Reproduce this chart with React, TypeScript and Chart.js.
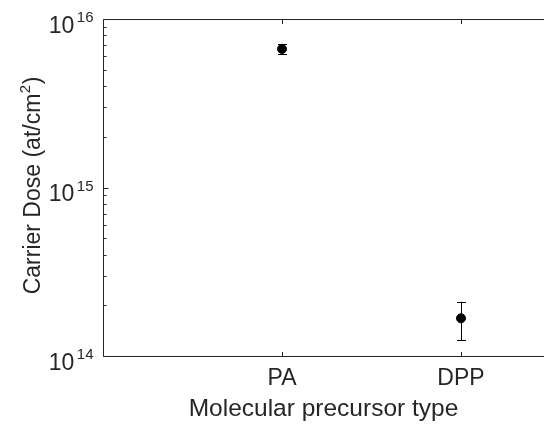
import React, { useEffect, useRef } from 'react';
import { Chart, registerables } from 'chart.js';

Chart.register(...registerables);

// ---- data ----
const categories = ['PA', 'DPP'];
const categoryPositions = [1, 2];
const doseValues = [6.64e15, 1.674e14];
const doseLower = [6.19e15, 1.245e14];
const doseUpper = [7.11e15, 2.1e14];
const yTickValues = [1e14, 1e15, 1e16];
const yTickExponents = ['14', '15', '16'];
const xTitle = 'Molecular precursor type';
const yTitleMain = 'Carrier Dose (at/cm';
const yTitleSup = '2';
const yTitleEnd = ')';

const FONT = "'Liberation Sans', Arial, sans-serif";
const INK = '#262626';

const decorPlugin = {
  id: 'decor',
  beforeDatasetsDraw(chart: any) {
    const { ctx, scales } = chart;
    const x = scales.x;
    const y = scales.y;
    ctx.save();
    ctx.strokeStyle = '#000';
    ctx.lineWidth = 1;
    for (let i = 0; i < doseValues.length; i++) {
      const px = Math.round(x.getPixelForValue(categoryPositions[i])) + 0.5;
      const yl = y.getPixelForValue(doseLower[i]);
      const yu = y.getPixelForValue(doseUpper[i]);
      ctx.beginPath();
      ctx.moveTo(px, yl);
      ctx.lineTo(px, yu);
      ctx.moveTo(px - 4.5, Math.round(yl) + 0.5);
      ctx.lineTo(px + 4.5, Math.round(yl) + 0.5);
      ctx.moveTo(px - 4.5, Math.round(yu) + 0.5);
      ctx.lineTo(px + 4.5, Math.round(yu) + 0.5);
      ctx.stroke();
    }
    ctx.restore();
  },
  afterDraw(chart: any) {
    const { ctx, chartArea, scales } = chart;
    const x = scales.x;
    const y = scales.y;
    const L = Math.round(chartArea.left) + 0.5;
    const T = Math.round(chartArea.top) + 0.5;
    const B = Math.round(chartArea.bottom) + 0.5;
    const R = chartArea.right;
    ctx.save();
    ctx.strokeStyle = INK;
    ctx.lineWidth = 1;
    ctx.beginPath();
    ctx.moveTo(L, T);
    ctx.lineTo(L, B);
    ctx.moveTo(L, T);
    ctx.lineTo(R, T);
    ctx.moveTo(L, B);
    ctx.lineTo(R, B);
    for (const v of categoryPositions) {
      const px = Math.round(x.getPixelForValue(v)) + 0.5;
      ctx.moveTo(px, T);
      ctx.lineTo(px, T + 4.5);
      ctx.moveTo(px, B);
      ctx.lineTo(px, B - 4.5);
    }
    for (let d = 0; d < yTickValues.length; d++) {
      const base = yTickValues[d];
      const py = Math.round(y.getPixelForValue(base)) + 0.5;
      ctx.moveTo(L, py);
      ctx.lineTo(L + 5, py);
      if (d < yTickValues.length - 1) {
        for (let m = 2; m <= 9; m++) {
          const pm = Math.round(y.getPixelForValue(base * m)) + 0.5;
          ctx.moveTo(L, pm);
          ctx.lineTo(L + 3, pm);
        }
      }
    }
    ctx.stroke();

    // y tick labels 10^n
    ctx.fillStyle = INK;
    ctx.textBaseline = 'alphabetic';
    ctx.textAlign = 'right';
    for (let d = 0; d < yTickValues.length; d++) {
      const py = y.getPixelForValue(yTickValues[d]);
      const rightX = chartArea.left - 9.5;
      ctx.font = `15px ${FONT}`;
      const ew = ctx.measureText(yTickExponents[d]).width;
      ctx.fillText(yTickExponents[d], rightX, py + 3);
      ctx.font = `23px ${FONT}`;
      ctx.fillText('10', rightX - ew - 2.5, py + 13.7);
    }

    // y title (rotated) with superscript
    ctx.font = `23px ${FONT}`;
    const w1 = ctx.measureText(yTitleMain).width;
    const w3 = ctx.measureText(yTitleEnd).width;
    ctx.font = `15px ${FONT}`;
    const w2 = ctx.measureText(yTitleSup).width;
    const total = w1 + w2 + w3;
    const cy = 186;
    ctx.translate(39.5, cy);
    ctx.rotate(-Math.PI / 2);
    ctx.textAlign = 'left';
    let sx = -total / 2;
    ctx.font = `23px ${FONT}`;
    ctx.fillText(yTitleMain, sx, 0);
    sx += w1;
    ctx.font = `15px ${FONT}`;
    ctx.fillText(yTitleSup, sx + 0.5, -10);
    sx += w2 + 1;
    ctx.font = `23px ${FONT}`;
    ctx.fillText(yTitleEnd, sx, 0);
    ctx.restore();
  },
};

export default function App() {
  const ref = useRef<HTMLCanvasElement | null>(null);
  useEffect(() => {
    document.body.style.margin = '0';
    document.body.style.background = '#fff';
    if (!ref.current) return;
    Chart.defaults.font.family = FONT;
    const chart = new Chart(ref.current, {
      type: 'scatter',
      data: {
        datasets: [
          {
            data: categoryPositions.map((p, i) => ({ x: p, y: doseValues[i] })),
            backgroundColor: '#000',
            borderColor: '#000',
            borderWidth: 1,
            pointRadius: 4.5,
            pointHoverRadius: 4.5,
            clip: false as any,
          },
        ],
      },
      options: {
        animation: false,
        responsive: false,
        maintainAspectRatio: false,
        events: [],
        layout: { autoPadding: false, padding: { top: 19, right: 0, left: 0, bottom: 0 } },
        plugins: { legend: { display: false }, tooltip: { enabled: false } },
        scales: {
          x: {
            type: 'linear',
            min: 0,
            max: 2.4637,
            grid: { display: false, drawTicks: false },
            border: { display: false },
            afterBuildTicks: (s: any) => {
              s.ticks = categoryPositions.map((v) => ({ value: v }));
            },
            afterFit: (s: any) => {
              s.height = 69;
              s.paddingLeft = 0;
              s.paddingRight = 0;
            },
            ticks: {
              padding: 9,
              color: INK,
              font: { size: 23, family: FONT },
              maxRotation: 0,
              autoSkip: false,
              callback: (v: any) => {
                const i = categoryPositions.indexOf(Number(v));
                return i >= 0 ? categories[i] : '';
              },
            },
            title: {
              display: true,
              text: xTitle,
              color: INK,
              font: { size: 24.5, family: FONT },
              padding: { top: 0, bottom: 1 },
            },
          },
          y: {
            type: 'logarithmic',
            min: 1e14,
            max: 1e16,
            grid: { display: false, drawTicks: false },
            border: { display: false },
            ticks: { display: false },
            afterFit: (s: any) => {
              s.width = 103;
            },
          },
        },
      },
      plugins: [decorPlugin],
    });
    return () => chart.destroy();
  }, []);
  return (
    <div style={{ width: 544, height: 425, background: '#fff' }}>
      <canvas ref={ref} width={544} height={425} style={{ display: 'block' }} />
    </div>
  );
}
